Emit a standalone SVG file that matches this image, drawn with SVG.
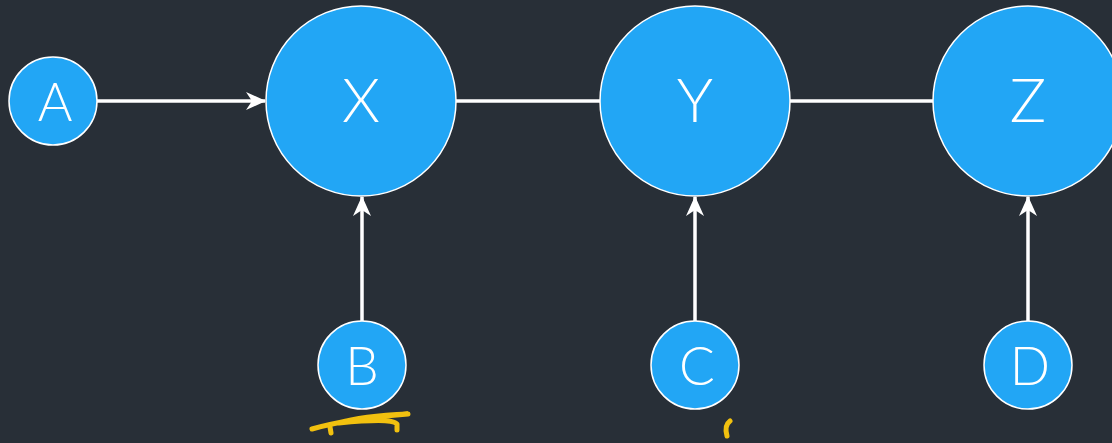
<svg xmlns="http://www.w3.org/2000/svg" width="1112" height="443" viewBox="0 0 1112 443">
<style>
.n circle{fill:#22a6f5;stroke:#fff;stroke-width:1.5}
.n text{fill:#fff;font-family:Lato,"Noto Sans",sans-serif;font-weight:300;text-anchor:middle;dominant-baseline:central}
.big{font-size:61px}
.small{font-size:53px}
.e{stroke:#fff;stroke-width:3.5;fill:none}
.s{stroke:#f2c10f;stroke-width:5;fill:none;stroke-linecap:round;stroke-linejoin:round}
</style>
<defs>
<marker id="arr" viewBox="0 0 20 18" refX="19" refY="9" markerWidth="20" markerHeight="18" orient="auto" markerUnits="userSpaceOnUse">
<path d="M0,0 L20,9 L0,18 L6,9 Z" fill="#fff"/>
</marker>
</defs>
<rect width="1112" height="443" fill="#282f37"/>
<g id="connectors">
<line class="e" x1="97" y1="101" x2="265" y2="101" marker-end="url(#arr)"/>
<line class="e" x1="456" y1="101" x2="600" y2="101"/>
<line class="e" x1="790" y1="101" x2="933" y2="101"/>
<line class="e" x1="362" y1="321" x2="362" y2="197" marker-end="url(#arr)"/>
<line class="e" x1="695" y1="321" x2="695" y2="197" marker-end="url(#arr)"/>
<line class="e" x1="1028" y1="321" x2="1028" y2="197" marker-end="url(#arr)"/>
</g>
<g id="A" class="n"><circle cx="53" cy="101" r="44"/><text class="small" x="55" y="100">A</text></g>
<g id="X" class="n"><circle cx="361" cy="101" r="95"/><text class="big" x="361" y="98">X</text></g>
<g id="Y" class="n"><circle cx="695" cy="101" r="95"/><text class="big" x="695" y="98">Y</text></g>
<g id="Z" class="n"><circle cx="1028" cy="101" r="95"/><text class="big" x="1028" y="98">Z</text></g>
<g id="B" class="n"><circle cx="362" cy="365" r="44"/><text class="small" x="362" y="364">B</text></g>
<g id="C" class="n"><circle cx="695" cy="365" r="44"/><text class="small" x="697" y="364">C</text></g>
<g id="D" class="n"><circle cx="1028" cy="365" r="44"/><text class="small" x="1030" y="364">D</text></g>
<g id="scribbles">
<path class="s" d="M312,429 C340,421 380,416 408,414 C385,415 355,418 338,423 C360,421 392,418 397,424 L397,430"/>
<path class="s" d="M330,427 L331,433"/>
<path class="s" d="M730,421 C726,424 725,429 727,436"/>
</g>
</svg>
